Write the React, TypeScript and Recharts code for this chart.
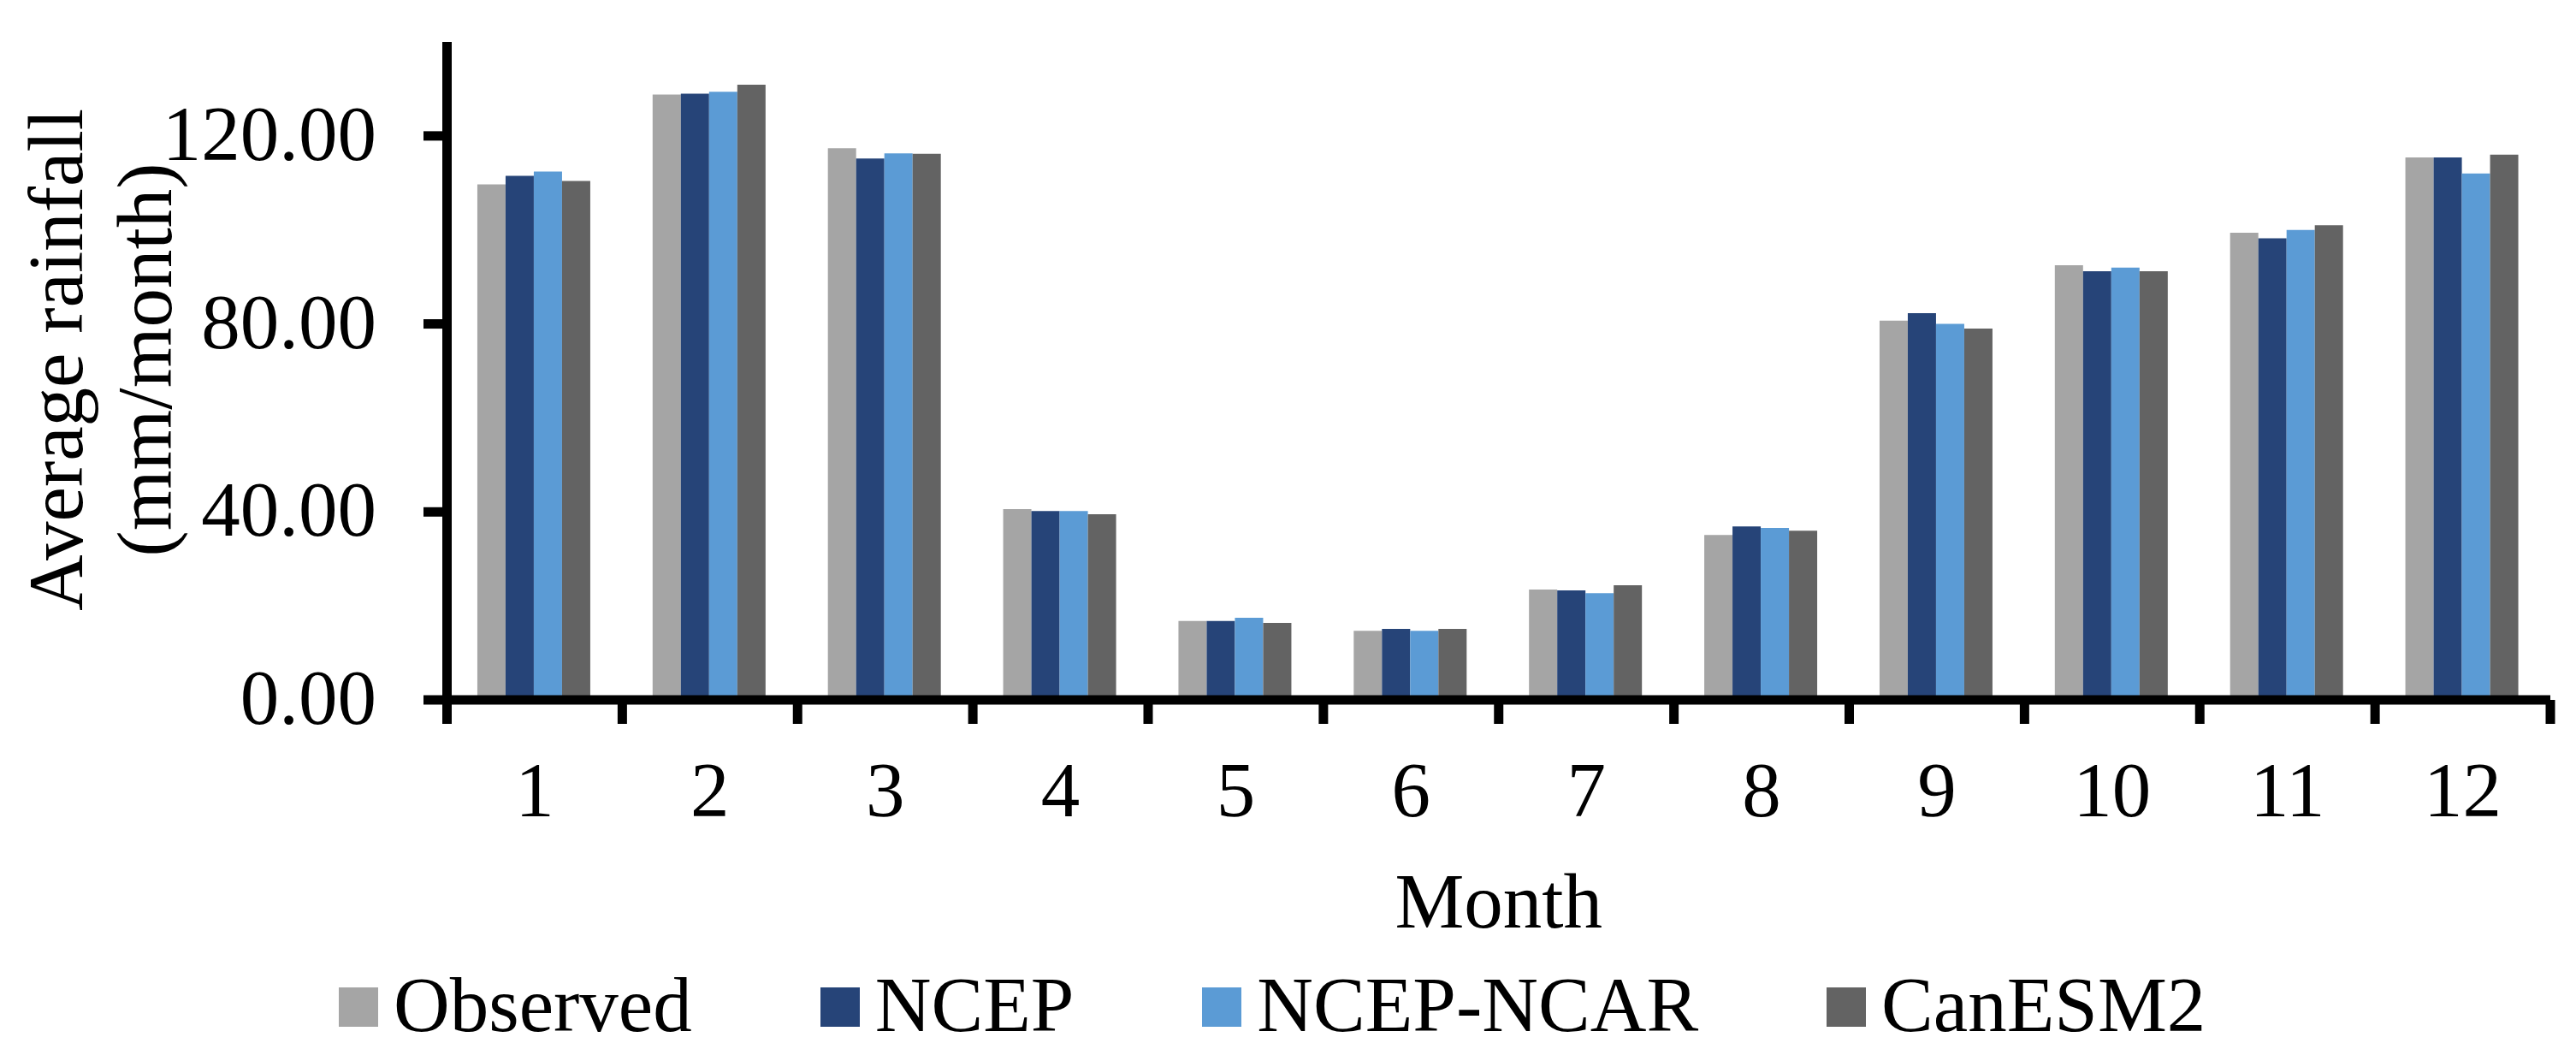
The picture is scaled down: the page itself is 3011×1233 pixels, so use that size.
import React from 'react';
import { BarChart, Bar, XAxis, YAxis, Legend } from 'recharts';

const months = ['1', '2', '3', '4', '5', '6', '7', '8', '9', '10', '11', '12'];
const observed = [109.7, 128.8, 117.4, 40.6, 16.8, 14.7, 23.5, 35.1, 80.7, 92.5, 99.4, 115.4];
const ncep = [111.5, 129.0, 115.2, 40.2, 16.8, 15.1, 23.3, 36.9, 82.3, 91.2, 98.2, 115.4];
const ncepNcar = [112.4, 129.4, 116.3, 40.2, 17.5, 14.7, 22.7, 36.6, 80.0, 92.0, 100.0, 112.0];
const canesm2 = [110.4, 130.9, 116.2, 39.5, 16.4, 15.1, 24.4, 36.0, 79.0, 91.2, 101.0, 116.0];
const yTicks = [0, 40, 80, 120];
const seriesKeys = ['observed', 'ncep', 'ncepNcar', 'canesm2'];
const seriesNames = ['Observed', 'NCEP', 'NCEP-NCAR', 'CanESM2'];
const seriesColors = ['#A5A5A5', '#264478', '#5B9BD5', '#636363'];

const data = months.map((m, i) => ({
  month: m,
  observed: observed[i],
  ncep: ncep[i],
  ncepNcar: ncepNcar[i],
  canesm2: canesm2[i],
}));

const FONT = '"Liberation Serif", "Times New Roman", Times, serif';
const FS = 91;
const W = 3011;
const H = 1233;
const M = { top: 49, right: 30, left: 0, bottom: 115 };
const Y_W = 522.5;
const X_H = 300;

const XTick = (props: any) => {
  const { x, y, payload, index } = props;
  const fallback = (W - M.right - M.left - Y_W) / (months.length * 2);
  const half = payload && typeof payload.offset === 'number' && payload.offset > 0 ? payload.offset : fallback;
  const last = index === months.length - 1;
  return (
    <g>
      <line x1={x - half} x2={x - half} y1={y} y2={y + 28} stroke="#000" strokeWidth={11} />
      {last && <line x1={x + half} x2={x + half} y1={y} y2={y + 28} stroke="#000" strokeWidth={11} />}
      <text x={x} y={y + 136} textAnchor="middle" fontFamily={FONT} fontSize={FS} fill="#000">
        {payload.value}
      </text>
    </g>
  );
};

const YTick = (props: any) => {
  const { x, y, payload } = props;
  return (
    <text x={x} y={y + 28} textAnchor="end" fontFamily={FONT} fontSize={FS} fill="#000">
      {Number(payload.value).toFixed(2)}
    </text>
  );
};

const YLabel = (props: any) => {
  const vb = props.viewBox || { x: 0, y: M.top, width: Y_W, height: 769 };
  const cy = vb.y + vb.height / 2 - 13;
  const x1 = vb.x + 96;
  const x2 = vb.x + 200;
  return (
    <g>
      <text x={x1} y={cy} transform={`rotate(-90, ${x1}, ${cy})`} textAnchor="middle" fontFamily={FONT} fontSize={FS} fill="#000">
        Average rainfall
      </text>
      <text x={x2} y={cy} transform={`rotate(-90, ${x2}, ${cy})`} textAnchor="middle" fontFamily={FONT} fontSize={FS} fill="#000">
        (mm/month)
      </text>
    </g>
  );
};

const XLabel = (props: any) => {
  const vb = props.viewBox || { x: Y_W, y: 818, width: 2458.5, height: X_H };
  return (
    <text x={vb.x + vb.width / 2} y={vb.y + 266} textAnchor="middle" fontFamily={FONT} fontSize={FS} fill="#000">
      Month
    </text>
  );
};

const LegendContent = () => {
  return (
    <div
      style={{
        display: 'flex',
        alignItems: 'center',
        gap: 150,
        fontFamily: FONT,
        fontSize: FS,
        lineHeight: `${FS}px`,
        whiteSpace: 'nowrap',
        color: '#000',
      }}
    >
      {seriesNames.map((n, i) => (
        <div key={n} style={{ display: 'flex', alignItems: 'center' }}>
          <span
            style={{
              display: 'inline-block',
              width: 46,
              height: 46,
              background: seriesColors[i],
              marginRight: 18,
              position: 'relative',
              top: 2,
            }}
          />
          <span>{n}</span>
        </div>
      ))}
    </div>
  );
};

export default function App() {
  return (
    <div style={{ position: 'absolute', left: 0, top: 0, background: '#fff' }}>
      <BarChart width={W} height={H} data={data} margin={M} barCategoryGap="17.3%" barGap={0}>
        <XAxis
          dataKey="month"
          height={X_H}
          interval={0}
          tickSize={0}
          tickMargin={0}
          tickLine={false}
          axisLine={{ stroke: '#000', strokeWidth: 11 }}
          tick={XTick}
          label={XLabel}
        />
        <YAxis
          width={Y_W}
          domain={[0, 140]}
          ticks={yTicks}
          interval={0}
          allowDataOverflow
          tickSize={27.5}
          tickMargin={55}
          tickLine={{ stroke: '#000', strokeWidth: 11 }}
          axisLine={{ stroke: '#000', strokeWidth: 11 }}
          tick={YTick}
          label={YLabel}
        />
        <Legend
          layout="horizontal"
          verticalAlign="middle"
          align="center"
          wrapperStyle={{ left: 396, top: 1129, width: 2500, height: FS }}
          content={LegendContent}
        />
        {seriesKeys.map((k, i) => (
          <Bar key={k} dataKey={k} name={seriesNames[i]} fill={seriesColors[i]} isAnimationActive={false} />
        ))}
      </BarChart>
    </div>
  );
}
